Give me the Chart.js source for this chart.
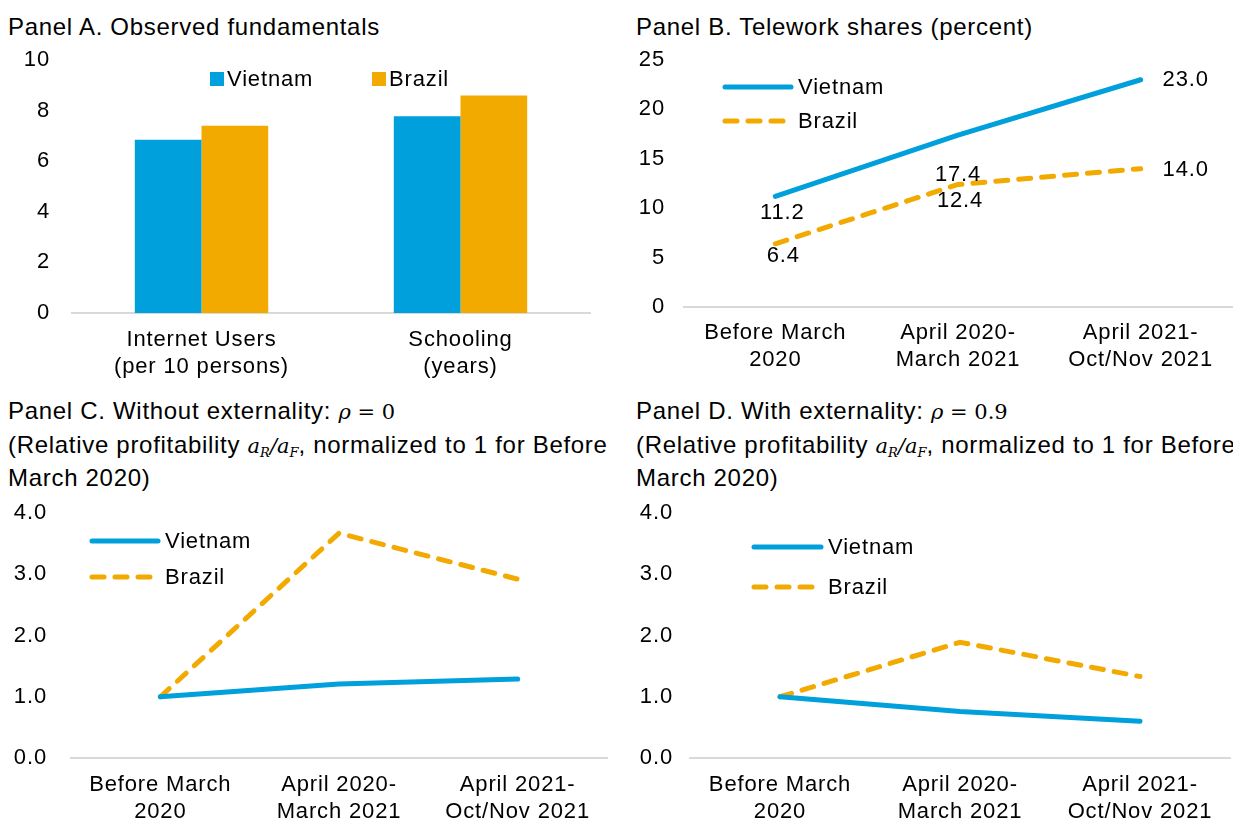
<!DOCTYPE html>
<html>
<head>
<meta charset="utf-8">
<script src="https://cdn.jsdelivr.net/npm/chart.js@4"></script>
<style>
  body { margin: 0; background: #fff; width: 1233px; height: 823px; overflow: hidden; position: relative;
         font-family: 'Liberation Sans', Arial, sans-serif; color: #000; }
  .title { position: absolute; font-size: 24px; line-height: 32.5px; white-space: nowrap; letter-spacing: 0.7px; }
  .box { position: absolute; }
  .m { font-family: 'DejaVu Serif', 'Liberation Serif', serif; font-style: italic; font-size: 21px; letter-spacing: 0; }
  .n { font-family: 'DejaVu Serif', 'Liberation Serif', serif; font-size: 21px; letter-spacing: 0; }
  .m sub { font-size: 13px; line-height: 0; vertical-align: -0.3em; }
</style>
</head>
<body>
<div class="title" style="left:8px; top:11px;">Panel A. Observed fundamentals</div>
<div class="title" style="left:636px; top:11px;">Panel B. Telework shares (percent)</div>
<div class="title" style="left:8px; top:395px;">Panel C. Without externality: <span class="m">ρ</span><span class="n"> = 0</span><br>(Relative profitability <span class="m">a<sub>R</sub>/a<sub>F</sub></span>, normalized to 1 for Before<br>March 2020)</div>
<div class="title" style="left:636px; top:395px;">Panel D. With externality: <span class="m">ρ</span><span class="n"> = 0.9</span><br>(Relative profitability <span class="m">a<sub>R</sub>/a<sub>F</sub></span>, normalized to 1 for Before<br>March 2020)</div>

<div class="box" style="left:0px; top:40px; width:616px; height:350px;"><canvas id="chartA"></canvas></div>
<div class="box" style="left:616px; top:40px; width:617px; height:350px;"><canvas id="chartB"></canvas></div>
<div class="box" style="left:0px; top:495px; width:616px; height:328px;"><canvas id="chartC"></canvas></div>
<div class="box" style="left:616px; top:495px; width:617px; height:328px;"><canvas id="chartD"></canvas></div>

<script>
// ---- data ----
const countries = ['Vietnam', 'Brazil'];

// Panel A
const fundamentalLabels = [['Internet Users', '(per 10 persons)'], ['Schooling', '(years)']];
const vietnamFundamentals = [6.85, 7.78];
const brazilFundamentals = [7.4, 8.6];

// Periods (panels B, C, D)
const periods = [['Before March', '2020'], ['April 2020-', 'March 2021'], ['April 2021-', 'Oct/Nov 2021']];

// Panel B (percent)
const vietnamTelework = [11.2, 17.4, 23.0];
const brazilTelework = [6.4, 12.4, 14.0];

// Panel C, rho = 0
const vietnamNoExt = [1.0, 1.21, 1.29];
const brazilNoExt = [1.0, 3.67, 2.92];

// Panel D, rho = 0.9
const vietnamExt = [1.0, 0.76, 0.60];
const brazilExt = [1.0, 1.89, 1.33];

const BLUE = '#00A0DC';
const ORANGE = '#F2AA00';
const AXIS = '#D9D9D9';
const SPACING = '0.85px'; // the original's Arial runs a bit wide

Chart.defaults.font.family = "'Liberation Sans', Arial, sans-serif";
Chart.defaults.font.size = 22;
Chart.defaults.color = '#000';
Chart.defaults.animation = false;

// widen canvas text a little (canvas state is reset on resize, so set it each time)
const wideText = {
  id: 'wideText',
  beforeLayout(chart) { chart.ctx.letterSpacing = SPACING; },
  beforeDraw(chart) { chart.ctx.letterSpacing = SPACING; }
};

// legend drawn on top of the plot area, like the Excel original
const overlayLegend = {
  id: 'overlayLegend',
  afterDraw(chart, args, opts) {
    const ctx = chart.ctx;
    ctx.save();
    ctx.font = "22px 'Liberation Sans', Arial, sans-serif";
    ctx.textBaseline = 'middle';
    chart.data.datasets.forEach((ds, i) => {
      const x = opts.x + i * (opts.dx || 0);
      const y = opts.y + i * (opts.dy || 0);
      if (opts.kind === 'box') {
        ctx.fillStyle = ds.backgroundColor;
        ctx.fillRect(x, y - 7, 14, 14);
        ctx.fillStyle = '#000';
        ctx.fillText(ds.label, x + 17, y + 1);
      } else {
        ctx.strokeStyle = ds.borderColor;
        ctx.lineWidth = ds.borderWidth;
        ctx.setLineDash(ds.borderDash || []);
        ctx.lineCap = 'round';
        ctx.beginPath();
        ctx.moveTo(x + 3, y);
        ctx.lineTo(x + opts.len - 3, y);
        ctx.stroke();
        ctx.setLineDash([]);
        ctx.fillStyle = '#000';
        ctx.fillText(ds.label, x + opts.len + 4, y + 1);
      }
    });
    ctx.restore();
  }
};

// value labels next to points (panel B)
const pointLabels = {
  id: 'pointLabels',
  afterDatasetsDraw(chart, args, opts) {
    if (!opts.offsets) return;
    const ctx = chart.ctx;
    ctx.save();
    ctx.font = "22px 'Liberation Sans', Arial, sans-serif";
    ctx.textAlign = 'center';
    ctx.textBaseline = 'middle';
    ctx.fillStyle = '#000';
    chart.data.datasets.forEach((ds, i) => {
      chart.getDatasetMeta(i).data.forEach((pt, j) => {
        const off = opts.offsets[i][j];
        ctx.fillText(ds.data[j].toFixed(1), pt.x + off[0], pt.y + off[1]);
      });
    });
    ctx.restore();
  }
};

function lineSets(v, b) {
  return [
    { label: countries[0], data: v, borderColor: BLUE, backgroundColor: BLUE, borderWidth: 5,
      pointRadius: 0, tension: 0, borderCapStyle: 'round', borderJoinStyle: 'round' },
    { label: countries[1], data: b, borderColor: ORANGE, backgroundColor: ORANGE, borderWidth: 5,
      borderDash: [12, 11], borderCapStyle: 'round', pointRadius: 0, tension: 0 }
  ];
}

function makeScales(o) {
  return {
    x: {
      offset: true,
      grid: { display: false, drawTicks: false },
      border: { display: true, color: AXIS, width: 2 },
      ticks: { padding: o.xPad, maxRotation: 0, autoSkip: false, font: { size: 22, lineHeight: 1.25 } },
      afterFit: s => { s.height = o.xHeight; s.paddingLeft = 0; s.paddingRight = 0; }
    },
    y: {
      min: o.min, max: o.max,
      grid: { display: false, drawTicks: false },
      border: { display: false },
      ticks: { stepSize: o.step, padding: o.yPad, callback: o.fmt || (v => v) },
      afterFit: s => { s.width = o.yWidth; s.paddingTop = 0; s.paddingBottom = 0; }
    }
  };
}

new Chart(document.getElementById('chartA'), {
  type: 'bar',
  data: {
    labels: fundamentalLabels,
    datasets: [
      { label: countries[0], data: vietnamFundamentals, backgroundColor: BLUE },
      { label: countries[1], data: brazilFundamentals, backgroundColor: ORANGE }
    ]
  },
  options: {
    responsive: true, maintainAspectRatio: false,
    layout: { padding: { top: 20, right: 26, bottom: 0, left: 0 } },
    datasets: { bar: { barPercentage: 1, categoryPercentage: 0.515 } },
    scales: makeScales({ min: 0, max: 10, step: 2, xPad: 13, xHeight: 77, yPad: 22, yWidth: 72 }),
    plugins: {
      legend: { display: false }, tooltip: { enabled: false },
      overlayLegend: { kind: 'box', x: 210, y: 39, dx: 162 }
    }
  },
  plugins: [wideText, overlayLegend]
});

new Chart(document.getElementById('chartB'), {
  type: 'line',
  data: { labels: periods, datasets: lineSets(vietnamTelework, brazilTelework) },
  options: {
    responsive: true, maintainAspectRatio: false,
    layout: { padding: { top: 20, right: 1, bottom: 0, left: 0 } },
    scales: makeScales({ min: 0, max: 25, step: 5, xPad: 12, xHeight: 83, yPad: 19, yWidth: 68 }),
    plugins: {
      legend: { display: false }, tooltip: { enabled: false },
      overlayLegend: { kind: 'line', x: 106, y: 47, dy: 34, len: 72 },
      pointLabels: { offsets: [[[7, 17], [0, 40], [45, 0]], [[8, 12], [2, 16], [45, 1]]] }
    }
  },
  plugins: [wideText, overlayLegend, pointLabels]
});

new Chart(document.getElementById('chartC'), {
  type: 'line',
  data: { labels: periods, datasets: lineSets(vietnamNoExt, brazilNoExt) },
  options: {
    responsive: true, maintainAspectRatio: false,
    layout: { padding: { top: 18, right: 9, bottom: 0, left: 0 } },
    scales: makeScales({ min: 0, max: 4, step: 1, xPad: 13, xHeight: 65, yPad: 24, yWidth: 71,
      fmt: v => v.toFixed(1) }),
    plugins: {
      legend: { display: false }, tooltip: { enabled: false },
      overlayLegend: { kind: 'line', x: 89, y: 46, dy: 36, len: 72 }
    }
  },
  plugins: [wideText, overlayLegend]
});

new Chart(document.getElementById('chartD'), {
  type: 'line',
  data: { labels: periods, datasets: lineSets(vietnamExt, brazilExt) },
  options: {
    responsive: true, maintainAspectRatio: false,
    layout: { padding: { top: 18, right: 3, bottom: 0, left: 0 } },
    scales: makeScales({ min: 0, max: 4, step: 1, xPad: 13, xHeight: 65, yPad: 17, yWidth: 74,
      fmt: v => v.toFixed(1) }),
    plugins: {
      legend: { display: false }, tooltip: { enabled: false },
      overlayLegend: { kind: 'line', x: 135, y: 52, dy: 40, len: 73 }
    }
  },
  plugins: [wideText, overlayLegend]
});
</script>
</body>
</html>
